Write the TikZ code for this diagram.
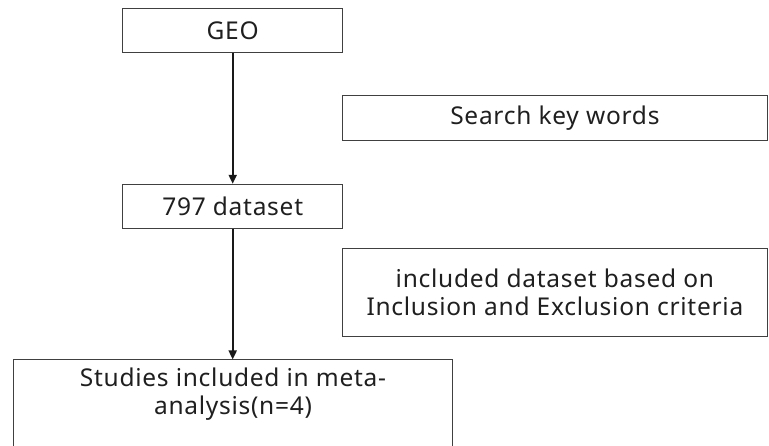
\documentclass[tikz,border=0pt]{standalone}
\usepackage{fontspec}
\setmainfont[LetterSpace=3]{Noto Sans}
\usetikzlibrary{arrows.meta}
\begin{document}
\begin{tikzpicture}[x=1pt,y=-1pt,
  box/.style={draw=black!75,line width=1pt,rectangle,inner sep=0pt},
  txt/.style={font=\fontsize{24.5}{28}\selectfont,text=black!88,align=center,inner sep=0pt},
  arr/.style={draw=black!90,line width=1.8pt,-{Triangle[length=9pt,width=8pt]}}]
\useasboundingbox (0,0) rectangle (769,446);
\clip (0,0) rectangle (769,446);
\node[box,txt,minimum width=220pt,minimum height=44pt] (geo) at (232.7,30.3) {GEO};
\node[box,txt,minimum width=424.3pt,minimum height=44.7pt] (search) at (554.9,118.3) {Search key words};
\node[box,txt,minimum width=220pt,minimum height=44pt] (ds) at (232.7,206.3) {797 dataset};
\node[box,txt,minimum width=424.3pt,minimum height=88.4pt] (incl) at (554.9,292.5) {included dataset based on\\Inclusion and Exclusion criteria};
\node[box,minimum width=439.4pt,minimum height=140pt] (studbox) at (233,430) {};
\node[txt] (stud) at (233,394) {Studies included in meta-\\analysis(n=4)};
\draw[arr] (geo.south) -- (ds.north);
\draw[arr] (ds.south) -- (ds.south |- studbox.north);
\end{tikzpicture}
\end{document}
